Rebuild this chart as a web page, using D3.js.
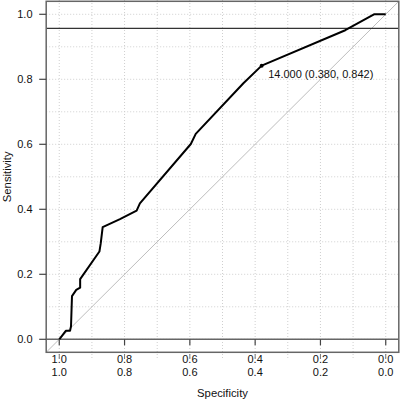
<!DOCTYPE html>
<html><head><meta charset="utf-8">
<script src="https://cdn.jsdelivr.net/npm/d3@7"></script>
<style>html,body{margin:0;padding:0;background:#fff;}svg{display:block;}</style>
</head><body>
<svg id="chart" width="400" height="401"></svg>
<script>
// ROC curve points: specificity, sensitivity
const specificity = [1.0, 0.98, 0.967, 0.964, 0.961, 0.948, 0.936, 0.936, 0.877, 0.873, 0.867, 0.814, 0.763, 0.753, 0.597, 0.582, 0.436, 0.380, 0.124, 0.036, 0.0];
const sensitivity = [0.0, 0.026, 0.026, 0.04, 0.133, 0.152, 0.159, 0.185, 0.27, 0.295, 0.345, 0.37, 0.396, 0.418, 0.601, 0.632, 0.788, 0.842, 0.951, 1.0, 1.0];
const bestPoint = {threshold: 14.000, spec: 0.380, sens: 0.842};
const hLineValue = 0.957;
const xTicks = [1.0, 0.8, 0.6, 0.4, 0.2, 0.0];
const yTicks = [0.0, 0.2, 0.4, 0.6, 0.8, 1.0];
const gridVals = [0, 0.1, 0.2, 0.3, 0.4, 0.5, 0.6, 0.7, 0.8, 0.9, 1.0];

const svg = d3.select("#chart");
const font = "Liberation Sans, Arial, sans-serif";
const x = d3.scaleLinear().domain([1.04, -0.04]).range([46.2, 398.8]);
const y = d3.scaleLinear().domain([-0.04, 1.04]).range([352.3, 1.3]);
const [x0, x1] = x.range();
const [yb, yt] = y.range();

// grid
const g = svg.append("g");
g.selectAll("line.gv").data(gridVals).join("line")
  .attr("x1", d => x(d)).attr("x2", d => x(d))
  .attr("y1", 0).attr("y2", 360)
  .attr("stroke", "#cfcfcf").attr("stroke-width", 1).attr("stroke-dasharray", "1,2");
g.selectAll("line.gh").data(gridVals).join("line")
  .attr("x1", x0).attr("x2", x1)
  .attr("y1", d => y(d)).attr("y2", d => y(d))
  .attr("stroke", "#cfcfcf").attr("stroke-width", 1).attr("stroke-dasharray", "1,2");

// clip
svg.append("clipPath").attr("id", "clip").append("rect")
  .attr("x", x0).attr("y", yt).attr("width", x1 - x0).attr("height", yb - yt);

// diagonal
svg.append("line").attr("clip-path", "url(#clip)")
  .attr("x1", x(1.04)).attr("y1", y(-0.04)).attr("x2", x(-0.04)).attr("y2", y(1.04))
  .attr("stroke", "#bdbdbd").attr("stroke-width", 1);

// horizontal line
svg.append("line").attr("x1", x0).attr("x2", x1)
  .attr("y1", y(hLineValue)).attr("y2", y(hLineValue))
  .attr("stroke", "#333").attr("stroke-width", 1.2);

// y=0 line
svg.append("line").attr("x1", x0).attr("x2", x1)
  .attr("y1", y(0)).attr("y2", y(0))
  .attr("stroke", "#666").attr("stroke-width", 1.5);

// curve
const pts = specificity.map((s, i) => [s, sensitivity[i]]);
svg.append("path").datum(pts)
  .attr("d", d3.line().x(d => x(d[0])).y(d => y(d[1])))
  .attr("fill", "none").attr("stroke", "#000").attr("stroke-width", 2).attr("stroke-linejoin", "round");

svg.append("circle").attr("cx", x(bestPoint.spec)).attr("cy", y(bestPoint.sens)).attr("r", 2).attr("fill", "#000");
svg.append("text").attr("x", x(bestPoint.spec) + 6.5).attr("y", y(bestPoint.sens) + 12)
  .attr("font-family", font).attr("font-size", 11).attr("fill", "#111")
  .text(`${bestPoint.threshold.toFixed(3)} (${bestPoint.spec.toFixed(3)}, ${bestPoint.sens.toFixed(3)})`);

// box
svg.append("rect").attr("x", x0).attr("y", yt).attr("width", x1 - x0).attr("height", yb - yt)
  .attr("fill", "none").attr("stroke", "#666").attr("stroke-width", 1.5);

// y axis
const ya = svg.append("g");
ya.selectAll("line").data(yTicks).join("line")
  .attr("x1", x0 - 7).attr("x2", x0).attr("y1", d => y(d)).attr("y2", d => y(d))
  .attr("stroke", "#444").attr("stroke-width", 1.2);
ya.selectAll("text").data(yTicks).join("text")
  .attr("x", 32.5).attr("y", d => y(d) + 4).attr("text-anchor", "end")
  .attr("font-family", font).attr("font-size", 11).attr("fill", "#111")
  .text(d => d.toFixed(1));

// x axis ticks (down from the y=0 line)
const xa = svg.append("g");
xa.selectAll("line.t").data(xTicks).join("line")
  .attr("x1", d => x(d)).attr("x2", d => x(d)).attr("y1", y(0)).attr("y2", y(0) + 6)
  .attr("stroke", "#444").attr("stroke-width", 1.2);
xa.selectAll("line.m").data(xTicks).join("line")
  .attr("x1", d => x(d)).attr("x2", d => x(d)).attr("y1", 354).attr("y2", 359)
  .attr("stroke", "#777").attr("stroke-width", 1);
xa.selectAll("text.r1").data(xTicks).join("text")
  .attr("x", d => x(d)).attr("y", 363).attr("text-anchor", "middle")
  .attr("font-family", font).attr("font-size", 11).attr("fill", "#111")
  .text(d => d.toFixed(1));
xa.selectAll("text.r2").data(xTicks).join("text")
  .attr("x", d => x(d)).attr("y", 376).attr("text-anchor", "middle")
  .attr("font-family", font).attr("font-size", 11).attr("fill", "#111")
  .text(d => d.toFixed(1));

// axis titles
svg.append("text").attr("x", (x0 + x1) / 2).attr("y", 397).attr("text-anchor", "middle")
  .attr("font-family", font).attr("font-size", 11.3).attr("fill", "#111").text("Specificity");
svg.append("text").attr("transform", `translate(11,${(yt + yb) / 2}) rotate(-90)`).attr("text-anchor", "middle")
  .attr("font-family", font).attr("font-size", 11.3).attr("fill", "#111").text("Sensitivity");
</script>
</body></html>
